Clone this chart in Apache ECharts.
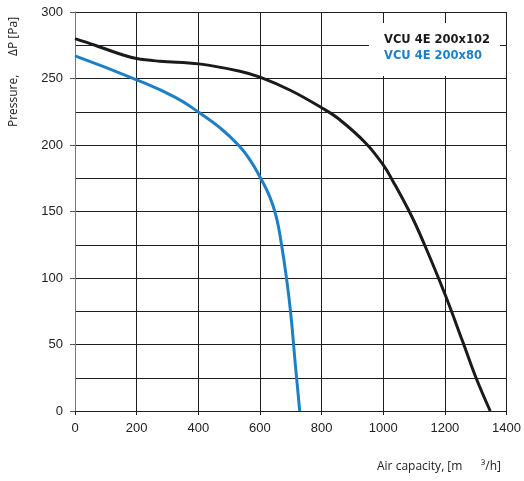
<!DOCTYPE html>
<html><head><meta charset="utf-8">
<script src="https://cdn.jsdelivr.net/npm/echarts@6/dist/echarts.min.js"></script>
<style>html,body{margin:0;padding:0;background:#fff}#c{width:524px;height:481px}</style>
</head><body><div id="c"></div>
<script>
const seriesNames = ['VCU 4E 200x102', 'VCU 4E 200x80'];
const blackX = [0, 65, 146, 200, 275, 402, 535, 600, 700, 800, 859, 945, 1000, 1031, 1091, 1134, 1199, 1258, 1301, 1347];
const blackY = [280, 275, 268.4, 265, 263, 261, 255.5, 251, 241, 228, 219, 201, 185, 173, 147, 125, 88.5, 52, 25, 0];
const blueX = [0, 200, 324, 405, 470, 530, 567, 600, 632, 653, 670, 686, 700, 714, 729];
const blueY = [267, 249, 236, 224, 213, 200, 189, 176, 161, 146, 125, 100, 73, 37, 0];
const xTicks = [0, 200, 400, 600, 800, 1000, 1200, 1400];
const yTicks = [0, 50, 100, 150, 200, 250, 300];

const zip = (xs, ys) => xs.map((x, i) => [x, ys[i]]);
const chart = echarts.init(document.getElementById('c'));
const gridColor = '#1e1e1e';
chart.setOption({
  animation: false,
  grid: { left: 75, right: 17, top: 12, bottom: 70 },
  xAxis: {
    type: 'value', min: xTicks[0], max: xTicks[xTicks.length - 1], interval: 200,
    axisLine: { show: true, lineStyle: { color: gridColor, width: 1 } },
    axisTick: { show: true, length: 4, lineStyle: { color: gridColor } },
    axisLabel: { fontFamily: 'Liberation Sans', fontSize: 13, color: '#222', margin: 11, formatter: v => String(v) },
    splitLine: { show: true, lineStyle: { color: gridColor, width: 1 } }
  },
  yAxis: {
    type: 'value', min: yTicks[0], max: yTicks[yTicks.length - 1], interval: 50,
    axisLine: { show: true, lineStyle: { color: '#777', width: 1 } },
    axisTick: { show: true, length: 5, lineStyle: { color: '#555' } },
    axisLabel: { fontFamily: 'Liberation Sans', fontSize: 13, color: '#222', margin: 12, formatter: v => String(v) },
    splitLine: { show: true, lineStyle: { color: gridColor, width: 1 } },
    minorTick: { show: false, splitNumber: 2 },
    minorSplitLine: { show: true, lineStyle: { color: gridColor, width: 1 } }
  },
  legend: {
    orient: 'vertical', right: 24, top: 23, padding: [10, 10, 13, 10], itemGap: 2,
    backgroundColor: '#fff', icon: 'none', itemWidth: 0, itemHeight: 0,
    textStyle: { fontFamily: 'DejaVu Sans', fontWeight: 'bold', fontSize: 11.5, lineHeight: 14 },
    data: [
      { name: seriesNames[0], textStyle: { color: '#1a1a1a' } },
      { name: seriesNames[1], textStyle: { color: '#1d7fc6' } }
    ]
  },
  graphic: [
    { type: 'text', x: 377, y: 467, style: { text: 'Air capacity, [m      \u00b3/h]', font: '12px "Open Sans"', fill: '#222', textVerticalAlign: 'middle' } },
    { type: 'text', x: 14, y: 72, rotation: Math.PI / 2, style: { text: 'Pressure,      \u0394P [Pa]', font: '12px "Open Sans"', fill: '#222', textAlign: 'center', textVerticalAlign: 'middle' } }
  ],
  series: [
    { name: seriesNames[0], type: 'line', smooth: 0.4, showSymbol: false, data: zip(blackX, blackY), lineStyle: { color: '#1a1a1a', width: 3 }, itemStyle: { color: '#1a1a1a' }, z: 3 },
    { name: seriesNames[1], type: 'line', smooth: 0.5, showSymbol: false, data: zip(blueX, blueY), lineStyle: { color: '#1d7fc6', width: 3 }, itemStyle: { color: '#1d7fc6' }, z: 3 }
  ]
});
</script></body></html>
